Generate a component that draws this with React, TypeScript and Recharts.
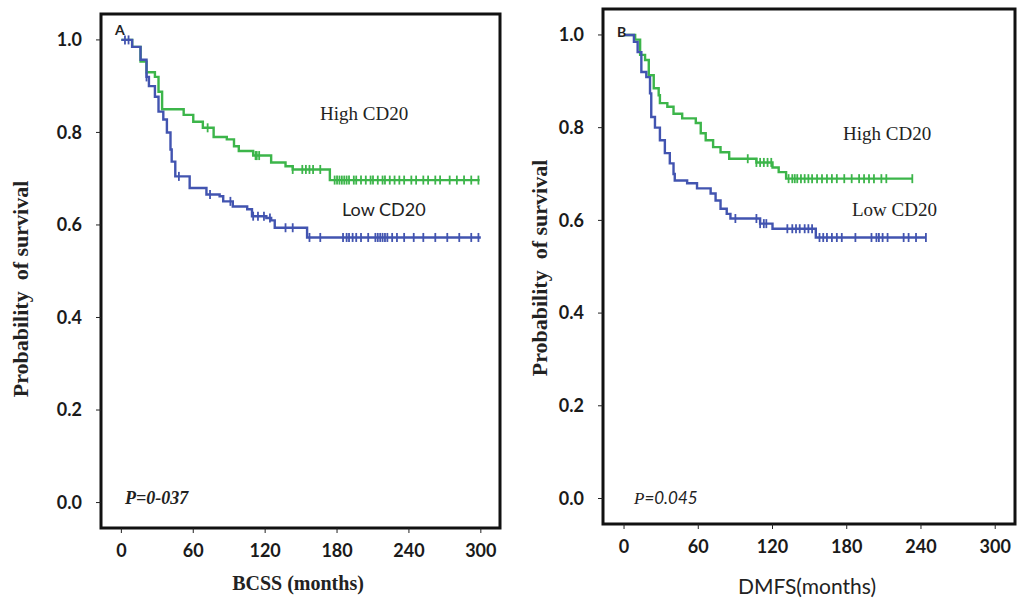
import { ComposedChart, Line, Scatter, XAxis, YAxis, ReferenceArea } from "recharts"

const monthTicks = [0, 60, 120, 180, 240, 300]
const probTicks = [0, 0.2, 0.4, 0.6, 0.8, 1.0]

// A: BCSS
const bcssHighTimes = [0, 9, 16, 21, 28, 31, 34, 52, 60, 68, 77, 88, 94, 98, 110, 125, 137, 143, 174, 299]
const bcssHighSurv = [1.0, 0.985, 0.953, 0.93, 0.92, 0.888, 0.85, 0.838, 0.823, 0.81, 0.79, 0.785, 0.77, 0.76, 0.75, 0.735, 0.727, 0.72, 0.697, 0.697]
const bcssHighCensored = [72, 112, 113, 115, 143, 151, 154, 157, 160, 166, 178, 180, 182, 184, 186, 188, 190, 194, 196, 200, 204, 208, 210, 214, 218, 220, 224, 228, 232, 236, 242, 246, 252, 256, 262, 266, 274, 280, 286, 292, 298]

const bcssLowTimes = [0, 9, 16, 21, 23, 28, 31, 35, 38, 41, 42, 45, 57, 71, 82, 85, 93, 105, 109, 121, 125, 128, 155, 300]
const bcssLowSurv = [1.0, 0.985, 0.957, 0.92, 0.9, 0.877, 0.845, 0.828, 0.8, 0.763, 0.737, 0.705, 0.68, 0.666, 0.662, 0.651, 0.64, 0.634, 0.619, 0.615, 0.61, 0.594, 0.573, 0.573]
const bcssLowCensored = [3, 6, 21, 48, 74, 91, 110, 114, 119, 124, 137, 143, 157, 166, 185, 188, 190, 193, 196, 200, 206, 212, 214, 216, 218, 220, 222, 226, 230, 236, 244, 252, 262, 272, 282, 292, 298]

// B: DMFS
const dmfsHighTimes = [0, 9, 13, 17, 20, 24, 28, 29, 35, 40, 47, 58, 62, 66, 72, 78, 85, 107, 120, 125, 131, 233]
const dmfsHighSurv = [1.0, 0.99, 0.957, 0.946, 0.913, 0.885, 0.87, 0.853, 0.845, 0.83, 0.82, 0.81, 0.788, 0.773, 0.758, 0.747, 0.733, 0.725, 0.714, 0.704, 0.69, 0.69]
const dmfsHighCensored = [100, 107, 110, 113, 116, 119, 133, 136, 138, 140, 143, 146, 149, 152, 156, 160, 164, 168, 172, 178, 184, 190, 194, 198, 202, 208, 212, 233]

const dmfsLowTimes = [0, 8, 11, 14, 18, 21, 22, 25, 29, 33, 37, 40, 41, 51, 59, 70, 74, 78, 83, 86, 110, 120, 155, 244]
const dmfsLowSurv = [1.0, 0.985, 0.963, 0.92, 0.909, 0.874, 0.823, 0.8, 0.773, 0.745, 0.723, 0.7, 0.686, 0.68, 0.669, 0.658, 0.643, 0.625, 0.614, 0.604, 0.593, 0.582, 0.563, 0.563]
const dmfsLowCensored = [90, 107, 110, 113, 115, 132, 136, 139, 142, 146, 149, 152, 158, 161, 164, 168, 172, 176, 187, 200, 204, 206, 209, 213, 226, 230, 236, 244]

const GREEN = "#3cb54a"
const BLUE = "#4254b0"
const X_DOMAIN: [number, number] = [-17, 316]
const Y_DOMAIN: [number, number] = [-0.055, 1.056]

function toSteps(times: number[], surv: number[]) {
  return times.map((t, i) => ({ t, s: surv[i] }))
}

function censorPoints(times: number[], surv: number[], cens: number[]) {
  return cens.map((c) => {
    let s = surv[0]
    for (let i = 0; i < times.length; i++) if (times[i] <= c) s = surv[i]
    return { t: c, s }
  })
}

const tickMark = (color: string) => (props: any) => (
  <line x1={props.cx} x2={props.cx} y1={props.cy - 4.5} y2={props.cy + 4.5} stroke={color} strokeWidth={1.8} />
)

const tickFont = { fontFamily: "Lato", fontWeight: 700, fontSize: 18, fill: "#1a1a1a" }

interface PanelProps {
  width: number
  height: number
  yAxisWidth: number
  top: number
  right: number
  xAxisHeight: number
  high: { t: number; s: number }[]
  low: { t: number; s: number }[]
  highCens: { t: number; s: number }[]
  lowCens: { t: number; s: number }[]
}

function KMPanel({ width, height, yAxisWidth, top, right, xAxisHeight, high, low, highCens, lowCens }: PanelProps) {
  return (
    <ComposedChart width={width} height={height} margin={{ top, right, bottom: 0, left: 0 }}>
      <XAxis
        dataKey="t"
        type="number"
        domain={X_DOMAIN}
        ticks={monthTicks}
        allowDataOverflow
        height={xAxisHeight}
        axisLine={false}
        tickLine={{ stroke: "#222" }}
        tickSize={5}
        tickMargin={11}
        tick={tickFont}
      />
      <YAxis
        dataKey="s"
        type="number"
        domain={Y_DOMAIN}
        ticks={probTicks}
        allowDataOverflow
        width={yAxisWidth}
        axisLine={false}
        tickLine={{ stroke: "#222" }}
        tickSize={5}
        tickMargin={14}
        tick={tickFont}
        tickFormatter={(v: number) => v.toFixed(1)}
      />
      <Line data={high} dataKey="s" type="stepAfter" stroke={GREEN} strokeWidth={2.4} dot={false} isAnimationActive={false} />
      <Line data={low} dataKey="s" type="stepAfter" stroke={BLUE} strokeWidth={2.4} dot={false} isAnimationActive={false} />
      <Scatter data={highCens} dataKey="s" shape={tickMark(GREEN)} isAnimationActive={false} />
      <Scatter data={lowCens} dataKey="s" shape={tickMark(BLUE)} isAnimationActive={false} />
      <ReferenceArea
        x1={X_DOMAIN[0]}
        x2={X_DOMAIN[1]}
        y1={Y_DOMAIN[0]}
        y2={Y_DOMAIN[1]}
        fill="none"
        stroke="#111"
        strokeWidth={3}
        ifOverflow="visible"
      />
    </ComposedChart>
  )
}

const txt = (left: number, top: number, style: any = {}): any => ({
  position: "absolute",
  left,
  top,
  transform: "translateY(-50%)",
  whiteSpace: "nowrap",
  lineHeight: 1,
  color: "#222",
  ...style,
})

const serif = "'Liberation Serif', 'Times New Roman', serif"

export default function App() {
  return (
    <div style={{ position: "absolute", left: 0, top: 0, width: 1019, height: 599, background: "#fff", overflow: "hidden" }}>
      <div style={{ position: "absolute", left: 0, top: 0 }}>
        <KMPanel
          width={505}
          height={599}
          yAxisWidth={101}
          top={14}
          right={5}
          xAxisHeight={71}
          high={toSteps(bcssHighTimes, bcssHighSurv)}
          low={toSteps(bcssLowTimes, bcssLowSurv)}
          highCens={censorPoints(bcssHighTimes, bcssHighSurv, bcssHighCensored)}
          lowCens={censorPoints(bcssLowTimes, bcssLowSurv, bcssLowCensored)}
        />
      </div>
      <div style={{ position: "absolute", left: 505, top: 0 }}>
        <KMPanel
          width={514}
          height={599}
          yAxisWidth={98}
          top={9}
          right={4}
          xAxisHeight={75}
          high={toSteps(dmfsHighTimes, dmfsHighSurv)}
          low={toSteps(dmfsLowTimes, dmfsLowSurv)}
          highCens={censorPoints(dmfsHighTimes, dmfsHighSurv, dmfsHighCensored)}
          lowCens={censorPoints(dmfsLowTimes, dmfsLowSurv, dmfsLowCensored)}
        />
      </div>

      {/* panel A text */}
      <div style={txt(115, 30, { fontFamily: "Lato", fontWeight: 700, fontSize: 14 })}>A</div>
      <div style={txt(320, 113, { fontFamily: serif, fontSize: 19 })}>High CD20</div>
      <div style={txt(342, 209, { fontFamily: "Lato", fontSize: 18 })}>Low CD20</div>
      <div style={txt(125, 498, { fontFamily: serif, fontStyle: "italic", fontWeight: 600, fontSize: 18 })}>P=0-037</div>
      <div style={txt(298, 583, { fontFamily: serif, fontWeight: 700, fontSize: 20, transform: "translate(-50%,-50%)" })}>BCSS (months)</div>
      <div style={txt(21, 289, { fontFamily: serif, fontWeight: 700, fontSize: 22, transform: "translate(-50%,-50%) rotate(-90deg)", whiteSpace: "pre" })}>
        {"Probability  of survival"}
      </div>

      {/* panel B text */}
      <div style={txt(617, 32, { fontFamily: "Lato", fontWeight: 700, fontSize: 14 })}>B</div>
      <div style={txt(843, 133, { fontFamily: serif, fontSize: 19 })}>High CD20</div>
      <div style={txt(852, 209, { fontFamily: serif, fontSize: 19 })}>Low CD20</div>
      <div style={txt(634, 498, { fontFamily: serif, fontStyle: "italic", fontSize: 17 })}>
        P<span style={{ fontFamily: "Lato" }}>=0.045</span>
      </div>
      <div style={txt(807, 585, { fontFamily: "Lato", fontSize: 21, transform: "translate(-50%,-50%)" })}>DMFS(months)</div>
      <div style={txt(540, 268, { fontFamily: serif, fontWeight: 700, fontSize: 22, transform: "translate(-50%,-50%) rotate(-90deg)", whiteSpace: "pre" })}>
        {"Probability  of survival"}
      </div>
    </div>
  )
}
